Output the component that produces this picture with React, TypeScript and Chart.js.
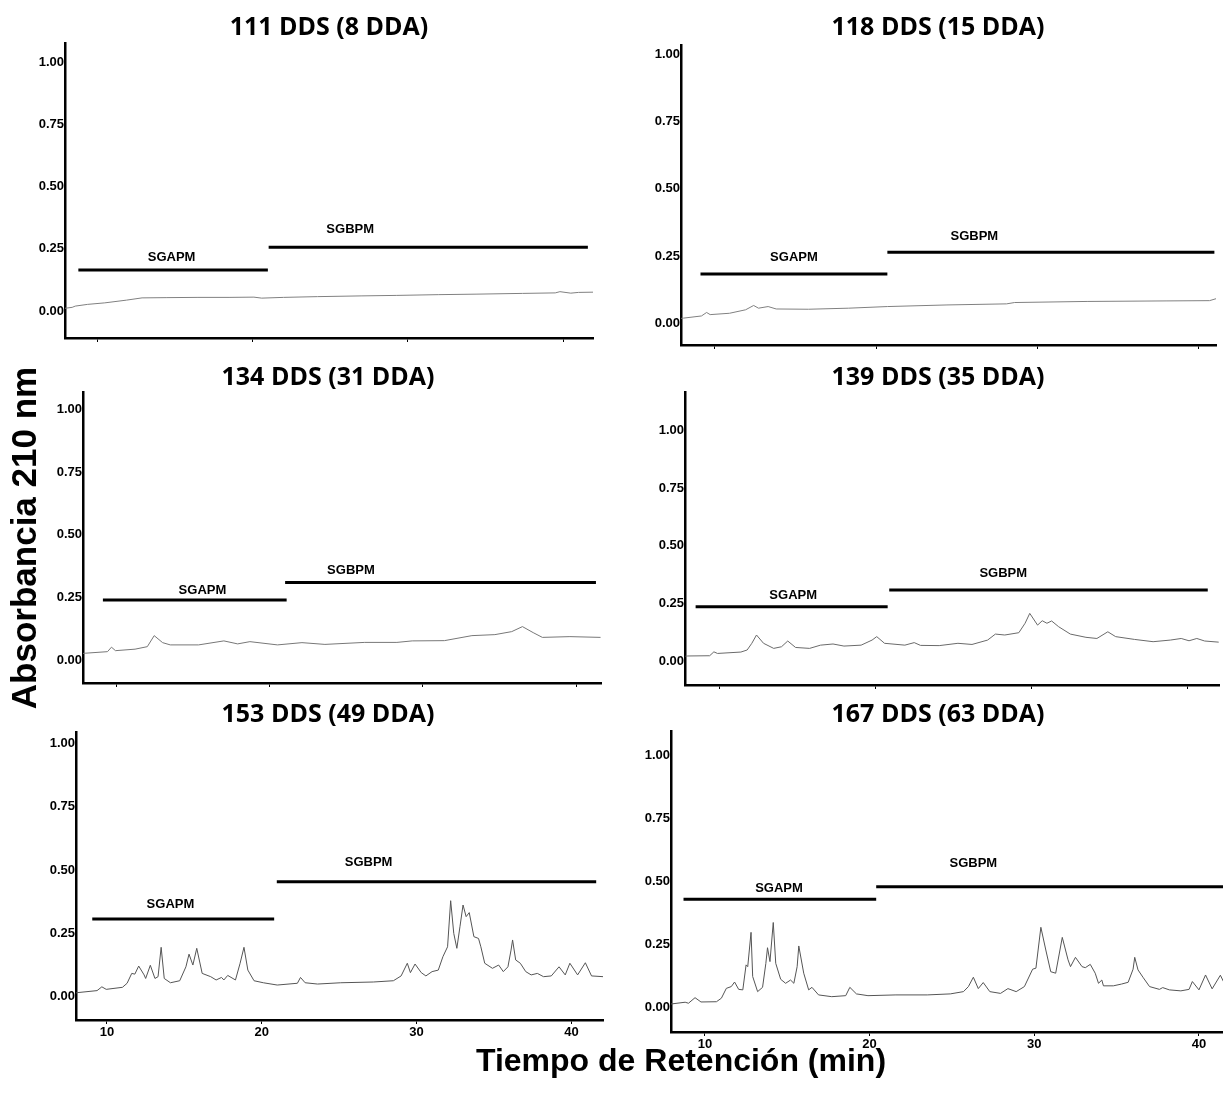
import React, { useEffect, useRef } from 'react';
import { Chart, registerables } from 'chart.js';
Chart.register(...registerables);

// ---------- data ----------
const X_TICKS = [10, 20, 30, 40];
const Y_TICKS = [0, 0.25, 0.5, 0.75, 1.0];

const TITLES = ['111 DDS (8 DDA)', '118 DDS (15 DDA)', '134 DDS (31 DDA)', '139 DDS (35 DDA)', '153 DDS (49 DDA)', '167 DDS (63 DDA)'];

// Panel 1 : 111 DDS
const T1 = [7.9, 8.4, 8.6, 9.4, 10.5, 11.9, 12.9, 14.5, 16.5, 18.5, 20.1, 20.6, 22, 24.2, 27, 29.3, 32, 34.4, 37.4, 39.5, 39.8, 40.5, 41, 42];
const A1 = [0.011, 0.015, 0.02, 0.027, 0.033, 0.044, 0.053, 0.054, 0.055, 0.055, 0.056, 0.052, 0.055, 0.058, 0.061, 0.063, 0.066, 0.068, 0.071, 0.073, 0.078, 0.072, 0.075, 0.076];
// Panel 2 : 118 DDS
const T2 = [7.9, 8.05, 9.16, 9.48, 9.7, 10.9, 11.9, 12.4, 12.7, 13.3, 13.8, 15.8, 18.3, 20.7, 24.4, 28.1, 28.6, 33.1, 38.0, 40.7, 41.2, 41.5];
const A2 = [0.018, 0.019, 0.027, 0.04, 0.032, 0.037, 0.05, 0.066, 0.056, 0.062, 0.053, 0.052, 0.056, 0.062, 0.068, 0.072, 0.077, 0.081, 0.083, 0.084, 0.093, 0.093];
// Panel 3 : 134 DDS
const T3 = [7.8, 7.98, 9.4, 9.66, 9.92, 11.2, 12.0, 12.45, 13.0, 13.5, 15.35, 17.0, 17.9, 18.7, 20.5, 22.1, 23.6, 26.2, 28.3, 29.3, 31.4, 33.2, 34.7, 35.8, 36.5, 37.2, 37.8, 39.6, 41.6];
const A3 = [0.026, 0.027, 0.033, 0.051, 0.037, 0.043, 0.053, 0.097, 0.069, 0.06, 0.06, 0.076, 0.064, 0.073, 0.06, 0.069, 0.062, 0.07, 0.07, 0.076, 0.077, 0.097, 0.101, 0.113, 0.133, 0.109, 0.09, 0.093, 0.09];
// Panel 4 : 139 DDS
const T4 = [7.85, 8.0, 9.4, 9.67, 9.9, 11.4, 11.8, 12.1, 12.4, 12.85, 13.5, 14.0, 14.4, 14.9, 15.8, 16.5, 17.3, 18.0, 19.1, 19.8, 20.1, 20.6, 21.9, 22.5, 22.9, 24.1, 25.3, 26.2, 27.2, 27.7, 28.3, 29.2, 29.6, 29.9, 30.4, 30.7, 31.0, 31.3, 31.75, 32.5, 33.5, 34.2, 34.9, 35.4, 36.6, 37.8, 38.9, 39.6, 40.1, 40.6, 41.1, 42.0];
const A4 = [0.021, 0.022, 0.023, 0.04, 0.033, 0.039, 0.048, 0.077, 0.113, 0.077, 0.055, 0.062, 0.087, 0.059, 0.055, 0.069, 0.074, 0.065, 0.069, 0.091, 0.106, 0.077, 0.069, 0.08, 0.068, 0.067, 0.077, 0.072, 0.091, 0.117, 0.113, 0.123, 0.164, 0.207, 0.156, 0.175, 0.164, 0.174, 0.149, 0.117, 0.103, 0.098, 0.127, 0.106, 0.094, 0.084, 0.091, 0.098, 0.088, 0.098, 0.087, 0.082];
// Panel 5 : 153 DDS
const T5 = [8.0, 8.08, 9.36, 9.67, 9.95, 11.0, 11.3, 11.6, 11.8, 12.05, 12.4, 12.5, 12.8, 13.1, 13.3, 13.5, 13.7, 14.1, 14.7, 15.1, 15.3, 15.55, 15.8, 16.15, 16.7, 17.05, 17.4, 17.55, 17.8, 18.3, 18.6, 18.85, 19.1, 19.5, 20.1, 21.0, 22.3, 22.5, 22.8, 23.6, 25.1, 27.2, 28.5, 29.0, 29.4, 29.6, 29.9, 30.3, 30.6, 31.0, 31.4, 31.7, 32.0, 32.2, 32.4, 32.6, 32.8, 33.0, 33.2, 33.4, 33.7, 34.0, 34.15, 34.4, 34.9, 35.3, 35.6, 35.9, 36.1, 36.2, 36.4, 36.7, 37.05, 37.4, 37.8, 38.2, 38.7, 39.2, 39.6, 39.9, 40.4, 40.9, 41.3, 42.05];
const A5 = [0.015, 0.016, 0.024, 0.039, 0.029, 0.037, 0.053, 0.092, 0.089, 0.121, 0.086, 0.072, 0.124, 0.072, 0.079, 0.195, 0.072, 0.055, 0.063, 0.118, 0.168, 0.125, 0.191, 0.092, 0.079, 0.066, 0.076, 0.066, 0.084, 0.066, 0.132, 0.195, 0.105, 0.063, 0.055, 0.046, 0.053, 0.076, 0.055, 0.05, 0.055, 0.058, 0.063, 0.082, 0.132, 0.095, 0.129, 0.095, 0.082, 0.099, 0.105, 0.158, 0.197, 0.379, 0.25, 0.191, 0.276, 0.362, 0.316, 0.332, 0.237, 0.23, 0.197, 0.132, 0.112, 0.125, 0.099, 0.118, 0.184, 0.224, 0.145, 0.132, 0.099, 0.086, 0.092, 0.079, 0.082, 0.118, 0.086, 0.132, 0.086, 0.134, 0.082, 0.079];
// Panel 6 : 167 DDS
const T6 = [7.94, 7.95, 8.8, 9.0, 9.4, 9.76, 10.7, 11.0, 11.3, 11.6, 11.8, 12.05, 12.3, 12.5, 12.6, 12.8, 12.9, 13.2, 13.5, 13.7, 13.8, 13.95, 14.15, 14.3, 14.6, 14.9, 15.2, 15.4, 15.6, 15.7, 16.0, 16.3, 16.5, 16.9, 17.7, 18.55, 18.8, 19.2, 19.9, 21.6, 23.5, 24.9, 25.7, 26.0, 26.3, 26.6, 26.9, 27.3, 27.95, 28.4, 28.9, 29.4, 29.9, 30.1, 30.4, 30.7, 31.0, 31.3, 31.7, 32.05, 32.2, 32.5, 32.9, 33.1, 33.4, 33.7, 33.9, 34.1, 34.2, 34.8, 35.3, 35.7, 36.0, 36.1, 36.3, 36.6, 37.0, 37.6, 37.8, 38.2, 38.9, 39.4, 39.6, 40.0, 40.4, 40.8, 41.3, 41.7, 41.9];
const A6 = [0.013, 0.013, 0.02, 0.016, 0.038, 0.021, 0.022, 0.036, 0.075, 0.082, 0.1, 0.071, 0.069, 0.168, 0.161, 0.297, 0.122, 0.062, 0.079, 0.174, 0.236, 0.181, 0.336, 0.174, 0.111, 0.095, 0.108, 0.095, 0.161, 0.243, 0.135, 0.069, 0.079, 0.049, 0.042, 0.046, 0.079, 0.053, 0.046, 0.049, 0.049, 0.053, 0.062, 0.082, 0.119, 0.074, 0.098, 0.062, 0.055, 0.074, 0.062, 0.082, 0.151, 0.155, 0.317, 0.227, 0.141, 0.135, 0.277, 0.188, 0.161, 0.198, 0.161, 0.157, 0.17, 0.135, 0.095, 0.108, 0.085, 0.085, 0.092, 0.099, 0.151, 0.198, 0.148, 0.119, 0.082, 0.071, 0.078, 0.069, 0.065, 0.071, 0.102, 0.069, 0.128, 0.073, 0.127, 0.074, 0.069];

// fraction bars: [start min, end min, absorbance level]
const SGAPM_BARS = [[8.8, 21.0, 0.165], [9.1, 20.7, 0.183], [9.1, 21.1, 0.239], [8.5, 20.8, 0.236], [9.05, 20.8, 0.307], [8.7, 20.4, 0.428]];
const SGBPM_BARS = [[21.05, 41.6, 0.256], [20.7, 41.0, 0.264], [21.0, 41.3, 0.309], [20.9, 41.3, 0.308], [20.97, 41.6, 0.454], [20.4, 42.0, 0.478]];
// label anchors: [min, absorbance]
const SGAPM_LABELS = [[14.8, 0.214], [14.9, 0.244], [15.6, 0.277], [14.75, 0.287], [14.1, 0.366], [14.5, 0.47]];
const SGBPM_LABELS = [[26.3, 0.326], [26.1, 0.322], [25.3, 0.359], [28.2, 0.381], [26.9, 0.53], [26.3, 0.57]];

// axis ranges
const X_MIN = [7.94, 7.89, 7.8, 7.82, 8.0, 7.94];
const X_MAX = [41.93, 41.1, 41.63, 42.02, 42.04, 41.46];
const Y_MIN = [-0.108, -0.081, -0.092, -0.104, -0.092, -0.098];
const Y_MAX = [1.076, 1.035, 1.069, 1.168, 1.045, 1.095];

const TIMES = [T1, T2, T3, T4, T5, T6];
const ABS = [A1, A2, A3, A4, A5, A6];
const TRACE_COLORS = ['#808080', '#808080', '#777777', '#6a6a6a', '#555555', '#555555'];

// ---------- layout (page px) ----------
const LAYOUT = [
  { cx: 0, cy: 0, axisX: 65, right: 593, top: 43, bottom: 338, tx: 329, ty: 28, showX: false },
  { cx: 611, cy: 0, axisX: 681, right: 1216, top: 45, bottom: 345, tx: 938, ty: 28, showX: false },
  { cx: 0, cy: 350, axisX: 83, right: 601, top: 392, bottom: 683, tx: 328, ty: 378, showX: false },
  { cx: 611, cy: 350, axisX: 685, right: 1219, top: 392, bottom: 685, tx: 938, ty: 378, showX: false },
  { cx: 0, cy: 700, axisX: 76, right: 603, top: 732, bottom: 1020, tx: 328, ty: 715, showX: true },
  { cx: 611, cy: 700, axisX: 671, right: 1223, top: 731, bottom: 1032, tx: 938, ty: 715, showX: true },
];

const W_Y = 45;
const H_X = 28;
const TICK_FONT = { family: '"Liberation Sans", Arial, sans-serif', size: 13, weight: 'bold' as const };

function Panel({ i }: { i: number }) {
  const ref = useRef<HTMLCanvasElement>(null);
  const L = LAYOUT[i];
  const cw = i % 2 === 0 ? 611 : 612;
  const ch = L.bottom - L.cy + H_X + 2;

  useEffect(() => {
    const canvas = ref.current!;
    const trace = TIMES[i].map((t, k) => ({ x: t, y: ABS[i][k] }));
    const a = SGAPM_BARS[i];
    const b = SGBPM_BARS[i];
    const annot = {
      id: 'annot' + i,
      afterDatasetsDraw(chart: any) {
        const ctx = chart.ctx as CanvasRenderingContext2D;
        const xs = chart.scales.x;
        const ys = chart.scales.y;
        ctx.save();
        ctx.fillStyle = '#000';
        ctx.textAlign = 'center';
        ctx.textBaseline = 'middle';
        ctx.font = 'bold 13px "Liberation Sans", Arial, sans-serif';
        ctx.fillText('SGAPM', xs.getPixelForValue(SGAPM_LABELS[i][0]), ys.getPixelForValue(SGAPM_LABELS[i][1]));
        ctx.fillText('SGBPM', xs.getPixelForValue(SGBPM_LABELS[i][0]), ys.getPixelForValue(SGBPM_LABELS[i][1]));
        ctx.font = 'bold 25px "Open Sans", sans-serif';
        ctx.fillText(TITLES[i], L.tx - L.cx, L.ty - L.cy);
        ctx.restore();
      },
    };
    const chart = new Chart(canvas, {
      type: 'line',
      data: {
        datasets: [
          { data: trace, borderColor: TRACE_COLORS[i], borderWidth: 1, pointRadius: 0, tension: 0 },
          { data: [{ x: a[0], y: a[2] }, { x: a[1], y: a[2] }], borderColor: '#000', borderWidth: 3, pointRadius: 0 },
          { data: [{ x: b[0], y: b[2] }, { x: b[1], y: b[2] }], borderColor: '#000', borderWidth: 3, pointRadius: 0 },
        ],
      },
      options: {
        animation: false,
        responsive: false,
        devicePixelRatio: 1,
        layout: {
          padding: {
            left: L.axisX - L.cx - W_Y,
            top: L.top - L.cy,
            right: L.cx + cw - L.right,
            bottom: L.cy + ch - L.bottom - H_X,
          },
        },
        plugins: { legend: { display: false }, tooltip: { enabled: false }, title: { display: false } },
        scales: {
          x: {
            type: 'linear',
            min: X_MIN[i],
            max: X_MAX[i],
            afterFit: (s: any) => { s.height = H_X; },
            afterBuildTicks: (s: any) => { s.ticks = X_TICKS.map((v) => ({ value: v })); },
            grid: { display: true, drawOnChartArea: false, drawTicks: true, tickLength: 4, color: '#000', lineWidth: 1 },
            border: { display: true, color: '#000', width: 2.5 },
            ticks: {
              display: L.showX,
              color: '#000',
              font: TICK_FONT,
              padding: 1,
              maxRotation: 0,
              autoSkip: false,
              callback: (v: any) => String(v),
            },
          },
          y: {
            type: 'linear',
            min: Y_MIN[i],
            max: Y_MAX[i],
            afterFit: (s: any) => { s.width = W_Y; },
            afterBuildTicks: (s: any) => { s.ticks = Y_TICKS.map((v) => ({ value: v })); },
            grid: { display: false, drawTicks: false },
            border: { display: true, color: '#000', width: 2.5 },
            ticks: {
              color: '#000',
              font: TICK_FONT,
              padding: 1,
              callback: (v: any) => Number(v).toFixed(2),
            },
          },
        },
      },
      plugins: [annot],
    } as any);
    return () => chart.destroy();
  }, []);

  return (
    <canvas
      ref={ref}
      width={cw}
      height={ch}
      style={{ position: 'absolute', left: L.cx, top: L.cy, width: cw, height: ch }}
    />
  );
}

export default function App() {
  return (
    <div style={{ position: 'absolute', left: 0, top: 0, width: 1223, height: 1109, background: '#fff', overflow: 'hidden' }}>
      {[0, 1, 2, 3, 4, 5].map((i) => (
        <Panel key={i} i={i} />
      ))}
      <div
        style={{
          position: 'absolute',
          left: 26 - 250,
          top: 538 - 22,
          width: 500,
          height: 44,
          lineHeight: '44px',
          textAlign: 'center',
          transform: 'rotate(-90deg)',
          font: 'bold 35px "Liberation Sans", Arial, sans-serif',
          color: '#000',
          whiteSpace: 'nowrap',
        }}
      >
        Absorbancia 210 nm
      </div>
      <div
        style={{
          position: 'absolute',
          left: 681 - 300,
          top: 1064 - 22,
          width: 600,
          height: 44,
          lineHeight: '44px',
          textAlign: 'center',
          font: 'bold 32px "Liberation Sans", Arial, sans-serif',
          color: '#000',
          whiteSpace: 'nowrap',
        }}
      >
        Tiempo de Retención (min)
      </div>
    </div>
  );
}
